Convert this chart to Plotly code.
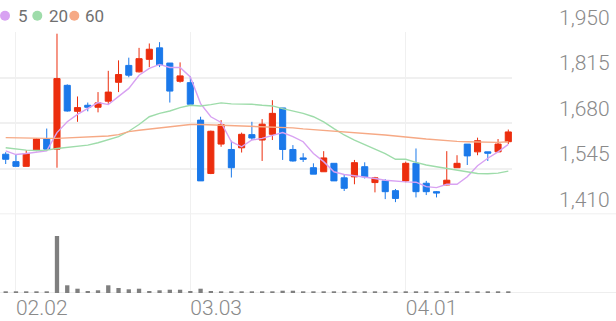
import plotly.graph_objects as go

# ---------------- data ----------------
dates = ["01.30",
         "02.02", "02.03", "02.04", "02.05", "02.06",
         "02.09", "02.10", "02.11", "02.12", "02.13",
         "02.19", "02.20",
         "02.23", "02.24", "02.25", "02.26", "02.27",
         "03.03", "03.04", "03.05", "03.06",
         "03.09", "03.10", "03.11", "03.12", "03.13",
         "03.16", "03.17", "03.18", "03.19", "03.20",
         "03.23", "03.24", "03.25", "03.26", "03.27",
         "03.30", "03.31",
         "04.01", "04.02", "04.03",
         "04.06", "04.07", "04.08", "04.09", "04.10",
         "04.13", "04.14", "04.15"]

open_ = [1588, 1566, 1552, 1599, 1633, 1603, 1792, 1715, 1733, 1727,
         1745, 1801, 1851, 1832, 1869, 1903, 1858, 1804, 1800, 1689,
         1531, 1618, 1602, 1607, 1646, 1630, 1647, 1725, 1602, 1577,
         1548, 1536, 1561, 1518, 1521, 1551, 1504, 1509, 1480, 1509,
         1561, 1502, 1477, 1497, 1548, 1618, 1595, 1595, 1595, 1625]
high = [1594, 1587, 1600, 1635, 1664, 1945, 1795, 1759, 1741, 1772,
        1835, 1866, 1874, 1903, 1916, 1920, 1858, 1860, 1819, 1699,
        1658, 1689, 1628, 1652, 1684, 1692, 1748, 1725, 1615, 1591,
        1561, 1597, 1561, 1529, 1571, 1564, 1521, 1514, 1485, 1566,
        1605, 1509, 1479, 1597, 1585, 1618, 1637, 1595, 1633, 1661]
low = [1559, 1552, 1552, 1597, 1603, 1548, 1714, 1684, 1715, 1712,
       1737, 1772, 1816, 1830, 1846, 1846, 1741, 1800, 1736, 1509,
       1529, 1610, 1519, 1593, 1630, 1568, 1630, 1571, 1566, 1565,
       1529, 1536, 1509, 1479, 1499, 1516, 1475, 1455, 1446, 1505,
       1460, 1467, 1460, 1496, 1548, 1556, 1585, 1568, 1595, 1618]
close = [1573, 1552, 1590, 1633, 1603, 1812, 1716, 1726, 1727, 1740,
         1772, 1824, 1822, 1871, 1899, 1853, 1775, 1820, 1736, 1509,
         1656, 1676, 1548, 1647, 1636, 1677, 1709, 1602, 1568, 1573,
         1529, 1577, 1509, 1487, 1563, 1521, 1518, 1477, 1457, 1561,
         1477, 1477, 1473, 1511, 1561, 1583, 1628, 1591, 1618, 1654]
volume = [170, 170, 170, 170, 170, 5700, 770, 430, 200, 270,
          770, 500, 370, 430, 200, 270, 330, 330, 200, 430,
          200, 130, 130, 130, 130, 170, 170, 230, 230, 130,
          130, 130, 170, 130, 130, 130, 130, 130, 130, 130,
          130, 130, 130, 170, 170, 130, 170, 130, 130, 130]

ma5 = [1598, 1587, 1590, 1594, 1598, 1652, 1684, 1706, 1723, 1741,
       1735, 1758, 1783, 1822, 1842, 1854, 1845, 1845, 1817, 1738,
       1699, 1682, 1625, 1610, 1630, 1635, 1644, 1652, 1640, 1625,
       1590, 1566, 1536, 1528, 1524, 1521, 1516, 1511, 1508, 1506,
       1505, 1492, 1489, 1499, 1499, 1521, 1554, 1576, 1595, 1617]
ma20 = [1607, 1603, 1600, 1599, 1600, 1605, 1608, 1612, 1615, 1622,
        1630, 1640, 1656, 1676, 1699, 1709, 1716, 1726, 1733, 1731,
        1735, 1740, 1737, 1737, 1736, 1733, 1731, 1723, 1716, 1709,
        1699, 1684, 1664, 1645, 1630, 1617, 1602, 1590, 1573, 1573,
        1564, 1556, 1551, 1546, 1540, 1534, 1531, 1530, 1532, 1538]
ma60 = [1637, 1636, 1635, 1635, 1635, 1635, 1636, 1637, 1638, 1640,
        1642, 1646, 1655, 1659, 1662, 1665, 1669, 1673, 1676, 1676,
        1675, 1674, 1672, 1671, 1669, 1669, 1668, 1667, 1666, 1663,
        1661, 1659, 1657, 1654, 1652, 1649, 1647, 1645, 1642, 1640,
        1636, 1633, 1630, 1628, 1626, 1625, 1624, 1624, 1623, 1625]

ma_names = ["5", "20", "60"]
tick_dates = ["02.02", "03.03", "04.01"]
price_ticks = [1410, 1545, 1680, 1815, 1950]

# ---------------- styles ----------------
UP = "#ec2e0e"
DOWN = "#1b79ea"
MA_COLORS = ["#d8a2f2", "#9edcaa", "#f6a985"]
GRID = "#f0f0f0"
TXT = "#8a8a8a"

W, H = 616, 321
ML, MR, MT, MB = 0, 104, 32, 28
PW = W - ML - MR
PH = H - MT - MB
split = (H - MB - 214.3) / PH


def px(x):
    return (x - ML) / PW


def py(y):
    return (H - MB - y) / PH


fig = go.Figure()

fig.add_trace(go.Candlestick(
    x=dates, open=open_, high=high, low=low, close=close,
    increasing=dict(line=dict(color=UP, width=1), fillcolor=UP),
    decreasing=dict(line=dict(color=DOWN, width=1), fillcolor=DOWN),
    whiskerwidth=0, xaxis="x", yaxis="y", showlegend=False,
))

for vals, col in zip([ma5, ma20, ma60], MA_COLORS):
    fig.add_trace(go.Scatter(x=dates, y=vals, mode="lines",
                             line=dict(color=col, width=1.4),
                             xaxis="x", yaxis="y", showlegend=False))

fig.add_trace(go.Bar(x=dates, y=volume, marker=dict(color="#7f7f7f", line=dict(width=0)),
                     width=0.42, xaxis="x2", yaxis="y2", showlegend=False))

xr = [-0.556, 49.36]
common_x = dict(type="category", range=xr, showgrid=True, gridcolor=GRID, gridwidth=1,
                tickvals=tick_dates, zeroline=False, showline=False, ticks="")

fig.update_layout(
    width=W, height=H,
    margin=dict(l=ML, r=MR, t=MT, b=MB, pad=0),
    paper_bgcolor="white", plot_bgcolor="white",
    font=dict(family="Roboto", color=TXT),
    boxgap=0.15, boxgroupgap=0.3,
    xaxis=dict(domain=[0, 1], anchor="y", showticklabels=False,
               rangeslider=dict(visible=False), **common_x),
    xaxis2=dict(domain=[0, 1], anchor="y2", matches="x", showticklabels=True,
                ticklabelposition="outside right",
                tickfont=dict(size=21, color=TXT, weight=300), **common_x),
    yaxis=dict(domain=[split, 1], range=[1410, 1950], tickvals=price_ticks,
               tickformat=",d", side="right", showgrid=True, gridcolor=GRID, gridwidth=1.5,
               zeroline=False, showline=False, ticks="",
               ticklabelposition="outside top", ticklabelstandoff=46,
               tickfont=dict(size=21, color=TXT, weight=300)),
    yaxis2=dict(domain=[0, split], range=[0, 5700 * (H - MB - 214.3) / 57.0],
                showgrid=False, showticklabels=False, zeroline=False, showline=False),
    shapes=[
        dict(type="line", xref="paper", yref="y", x0=0, x1=W / PW, y0=1410, y1=1410,
             line=dict(color="#e9e9e9", width=1.5), layer="below"),
        dict(type="line", xref="paper", yref="y2", x0=0, x1=W / PW, y0=0, y1=0,
             line=dict(color="#e9e9e9", width=1.5), layer="below"),
    ],
)

# legend (circles + labels)
legend_cx = [5, 37.3, 74.3]
legend_tx = [16, 47, 83]
legend_cy = 15.7
r = 5
for name, col, cx, tx in zip(ma_names, MA_COLORS, legend_cx, legend_tx):
    fig.add_shape(type="circle", xref="paper", yref="paper",
                  x0=px(cx - r), x1=px(cx + r), y0=py(legend_cy + r), y1=py(legend_cy - r),
                  fillcolor=col, line=dict(width=0))
    fig.add_annotation(text=name, xref="paper", yref="paper", x=px(tx), y=py(legend_cy),
                       xanchor="left", yanchor="middle", showarrow=False,
                       font=dict(size=17, color="#707070"))

fig.write_html("out.html")
